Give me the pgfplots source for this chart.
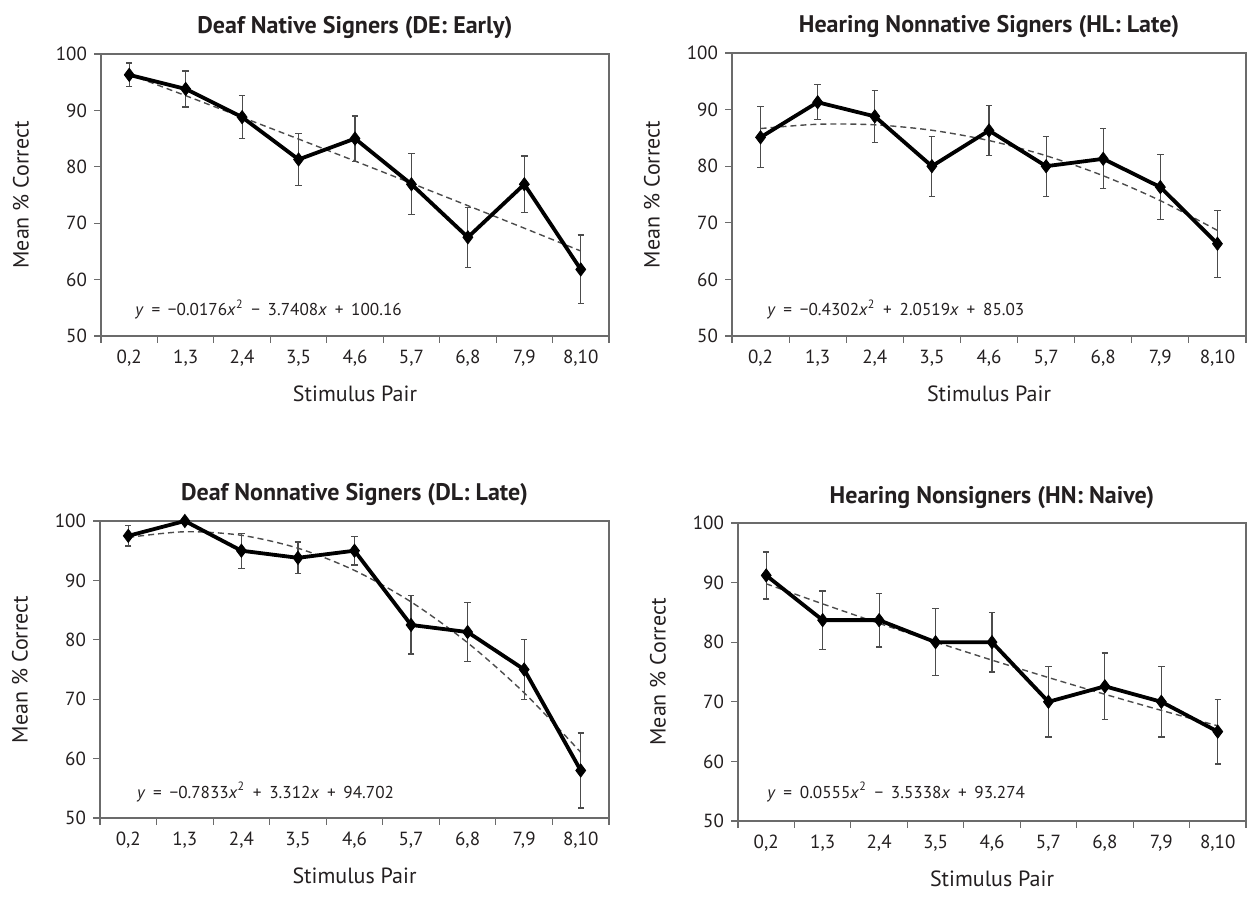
\documentclass[border=0pt]{standalone}
\usepackage{fontspec}
\setmainfont{PT Sans}
\usepackage{pgfplots}
\usepackage{pgfplotstable}
\pgfplotsset{compat=1.18}

\definecolor{axgray}{gray}{0.42}
\definecolor{txt}{HTML}{231F20}

\pgfplotstableread{
x y e t
0 96.3 2.1 96.40
1 93.8 3.2 92.61
2 88.8 3.8 88.78
3 81.3 4.6 84.92
4 85.0 4.0 81.02
5 76.9 5.4 77.08
6 67.5 5.3 73.11
7 76.9 5.0 69.11
8 61.8 6.1 65.07
}\tldata

\pgfplotstableread{
x y e t
0 85.1 5.4 86.65
1 91.3 3.1 87.41
2 88.8 4.6 87.31
3 80.0 5.3 86.35
4 86.3 4.4 84.53
5 80.0 5.3 81.85
6 81.3 5.3 78.31
7 76.3 5.7 73.91
8 66.3 5.9 68.65
}\trdata

\pgfplotstableread{
x y e t
0 97.5 1.7 97.23
1 100.0 0 98.19
2 95.0 2.95 97.59
3 93.8 2.65 95.42
4 95.0 2.4 91.68
5 82.5 4.9 86.38
6 81.3 5.0 79.50
7 75.0 5.05 71.07
8 58.0 6.3 61.06
}\bldata

\pgfplotstableread{
x y e t
0 91.2 3.95 89.80
1 83.7 4.9 86.43
2 83.7 4.5 83.17
3 80.0 5.6 80.03
4 80.0 5.0 76.99
5 70.0 5.9 74.07
6 72.6 5.6 71.26
7 70.0 5.9 68.56
8 65.0 5.45 65.97
}\brdata

\newcommand{\op}[1]{\hspace{0.45em}#1\hspace{0.45em}}
\tikzset{eq/.style={anchor=base west, font=\fontsize{8.6}{10}\selectfont, text=txt, inner sep=0pt}}

\pgfplotsset{
  panel/.style={
    scale only axis,
    anchor=south west,
    clip=false,
    xmin=-0.5, xmax=8.5, ymin=50, ymax=100,
    xtick={0,...,8},
    xticklabels={{0,2},{1,3},{2,4},{3,5},{4,6},{5,7},{6,8},{7,9},{8,10}},
    minor xtick={-0.5,0.5,...,8.5},
    ytick={50,60,...,100},
    xtick pos=bottom, ytick pos=left,
    tick align=outside,
    major tick length=3.5pt, minor tick length=3.5pt,
    every tick/.style={axgray, line width=0.6pt},
    major x tick style={draw=none},
    axis line style={axgray, line width=0.6pt},
    /pgf/number format/assume math mode=true,
    tick label style={font=\fontsize{9.5}{11}\selectfont, text=txt},
    title style={font=\bfseries\fontsize{12}{14}\selectfont, text=txt,
      at={([yshift=4pt]axis description cs:0.5,1)}, anchor=base},
    xlabel={Stimulus Pair},
    ylabel={Mean \% Correct},
    xlabel style={font=\fontsize{11}{13}\selectfont, text=txt,
      at={([yshift=-29pt]axis description cs:0.5,0)}, anchor=center},
    ylabel style={font=\fontsize{11}{13}\selectfont, text=txt,
      at={([xshift=-40pt]axis description cs:0,0.5)}, anchor=center},
  },
  trend/.style={black!70, line width=0.7pt, dash pattern=on 3pt off 2pt, smooth, no markers},
  series/.style={black, line width=1.9pt, mark=diamond*, mark size=3.3pt,
    mark options={solid, line width=0.4pt},
    error bars/.cd, y dir=both, y explicit,
    error bar style={line width=0.6pt, black!70, solid},
    error mark options={rotate=90, mark size=1.6pt, line width=0.6pt, black!70}},
}

\begin{document}
\begin{tikzpicture}
\path[use as bounding box] (0,0) rectangle (624pt,449.5pt);

\begin{axis}[panel, at={(50.5pt,281.5pt)}, width=254pt, height=141pt,
  title={Deaf Native Signers (DE: Early)}]
  \addplot[trend] table[x=x,y=t]{\tldata};
  \addplot[series] table[x=x,y=y,y error=e]{\tldata};
  \node[eq] at (rel axis cs:0.067,0.071) {\textit{y}\op{=}−0.0176\textit{x}\textsuperscript{2}\op{−}3.7408\textit{x}\op{+}100.16};
\end{axis}

\begin{axis}[panel, at={(366pt,281.5pt)}, width=257pt, height=141.5pt,
  title={Hearing Nonnative Signers (HL: Late)}]
  \addplot[trend] table[x=x,y=t]{\trdata};
  \addplot[series] table[x=x,y=y,y error=e]{\trdata};
  \node[eq] at (rel axis cs:0.068,0.071) {\textit{y}\op{=}−0.4302\textit{x}\textsuperscript{2}\op{+}2.0519\textit{x}\op{+}85.03};
\end{axis}

\begin{axis}[panel, at={(50pt,40.5pt)}, width=254.5pt, height=148.5pt,
  title={Deaf Nonnative Signers (DL: Late)}]
  \addplot[trend] table[x=x,y=t]{\bldata};
  \addplot[series] table[x=x,y=y,y error=e]{\bldata};
  \node[eq] at (rel axis cs:0.072,0.067) {\textit{y}\op{=}−0.7833\textit{x}\textsuperscript{2}\op{+}3.312\textit{x}\op{+}94.702};
\end{axis}

\begin{axis}[panel, at={(369pt,39pt)}, width=254pt, height=149pt,
  title={Hearing Nonsigners (HN: Naive)}]
  \addplot[trend] table[x=x,y=t]{\brdata};
  \addplot[series] table[x=x,y=y,y error=e]{\brdata};
  \node[eq] at (rel axis cs:0.057,0.077) {\textit{y}\op{=}0.0555\textit{x}\textsuperscript{2}\op{−}3.5338\textit{x}\op{+}93.274};
\end{axis}
\end{tikzpicture}
\end{document}
